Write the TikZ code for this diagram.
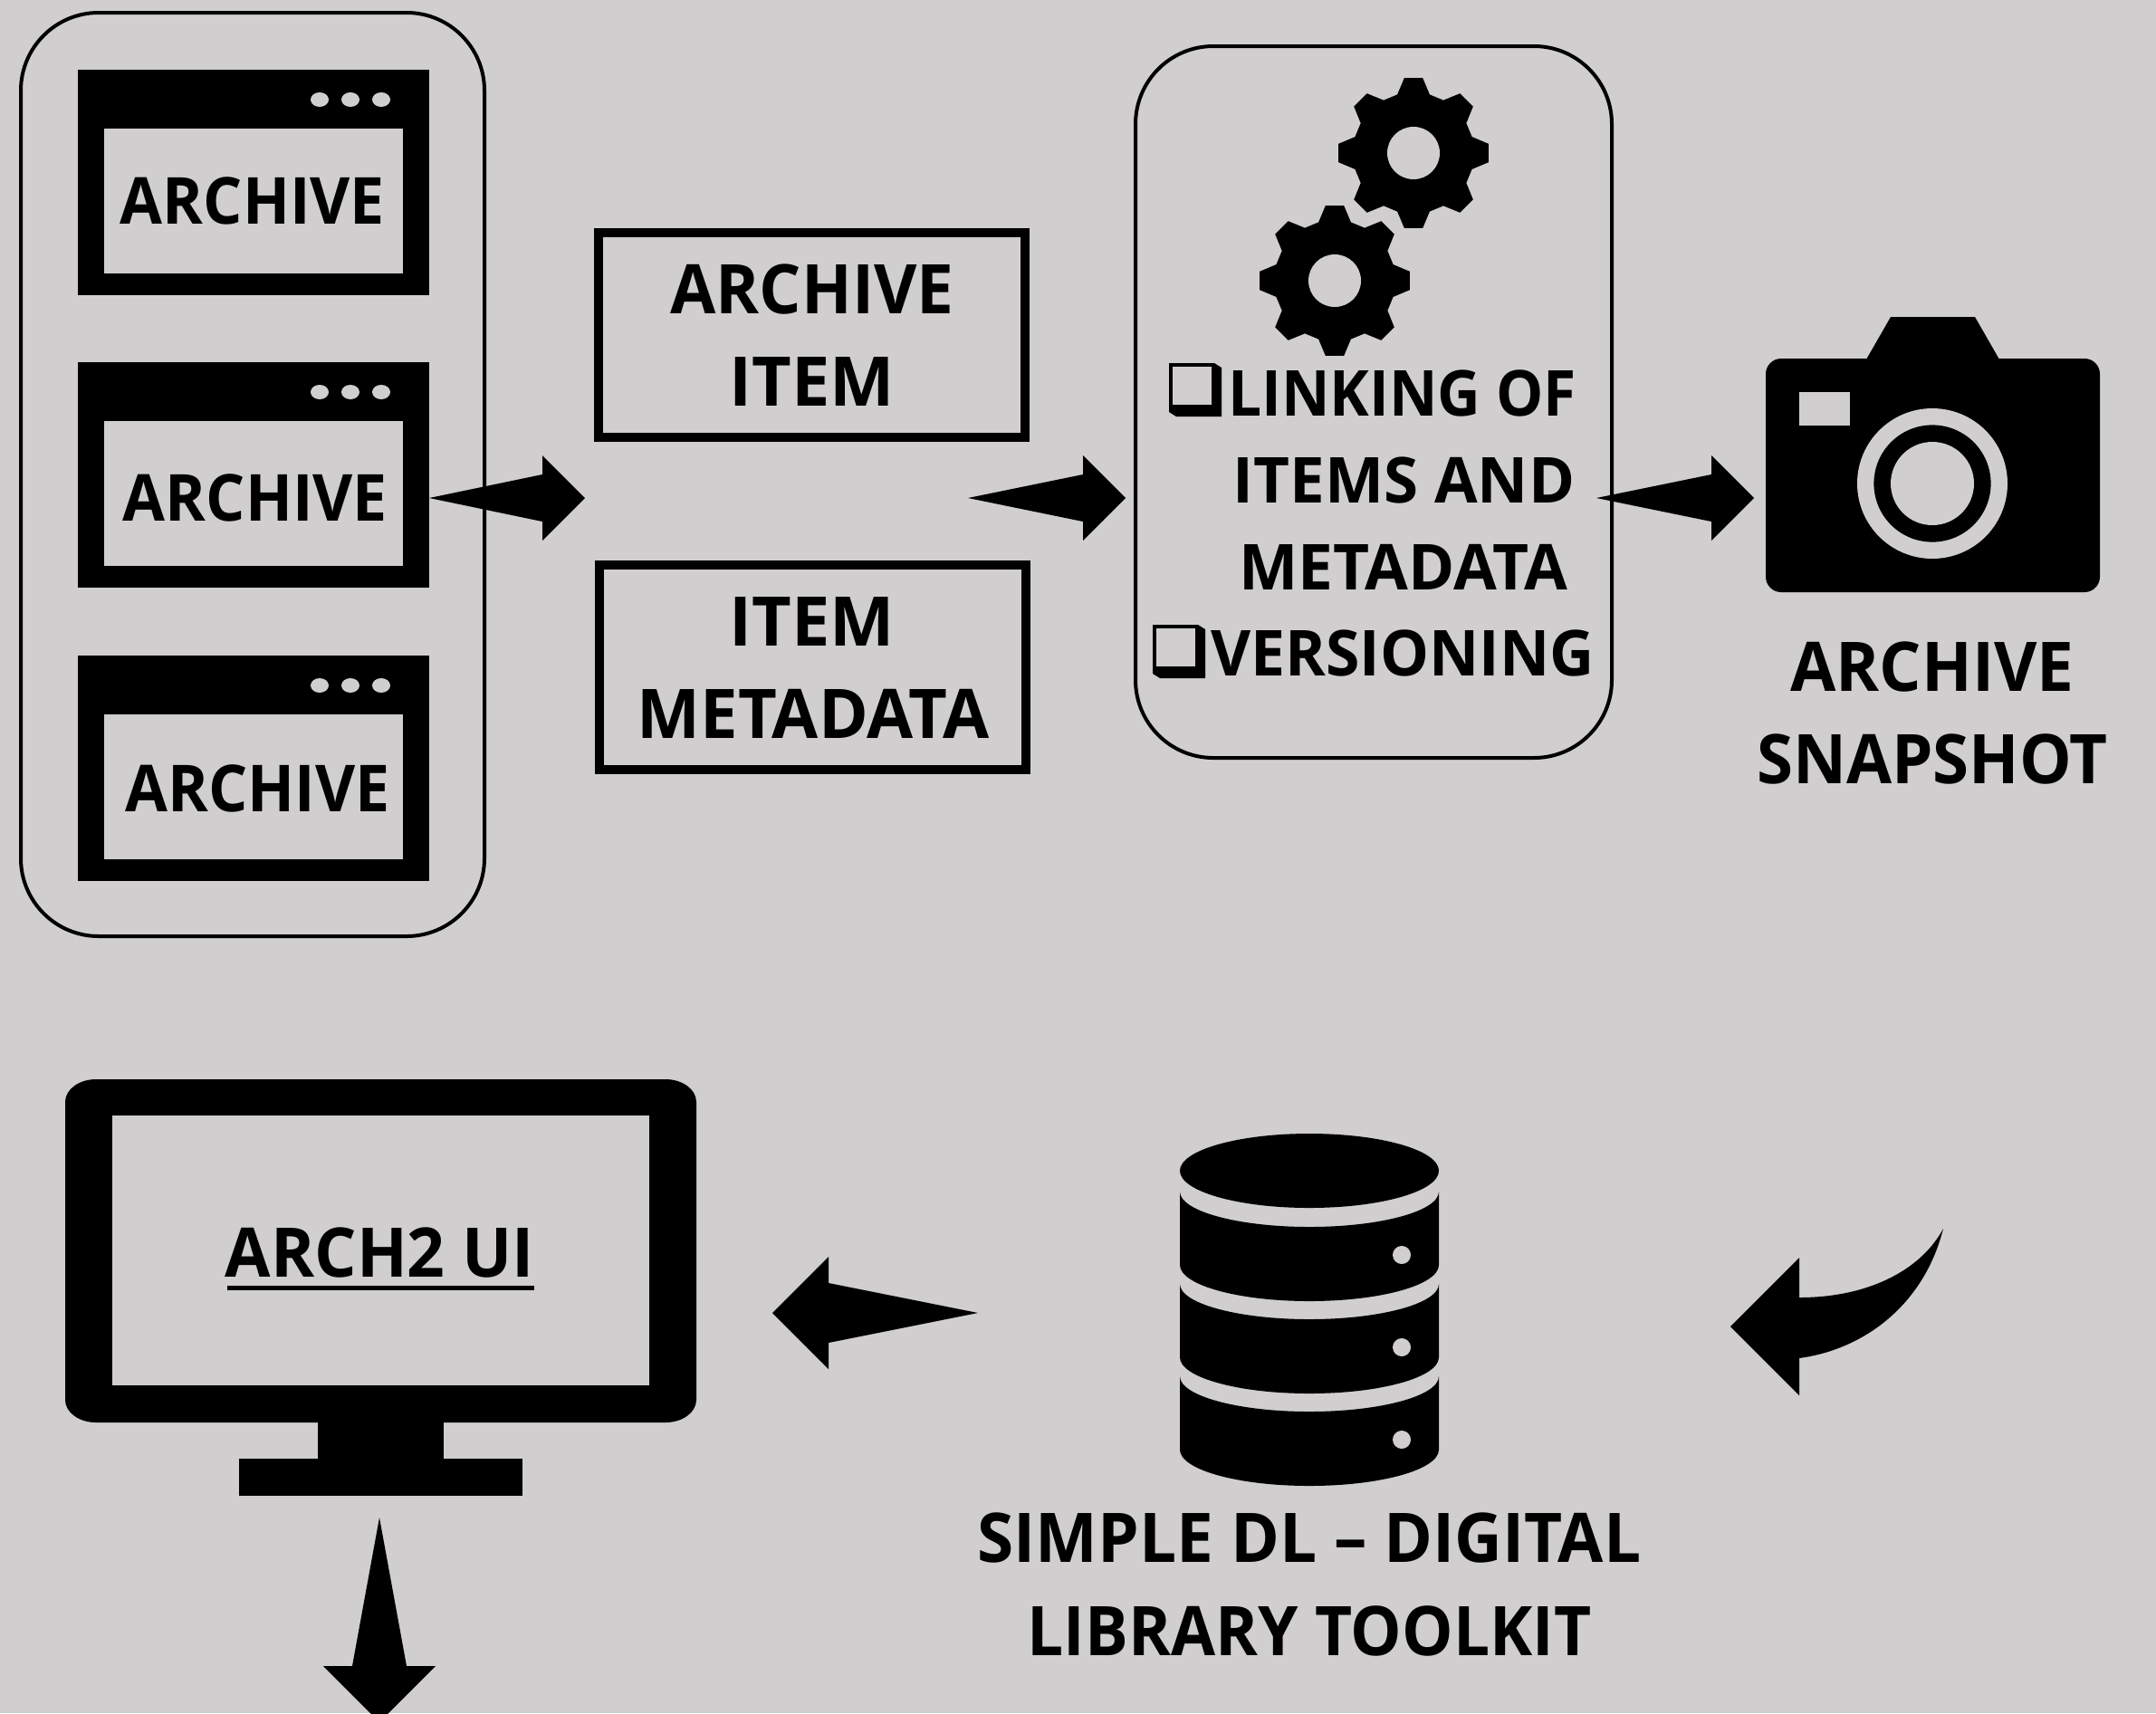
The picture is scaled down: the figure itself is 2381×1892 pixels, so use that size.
\documentclass[tikz,border=0pt]{standalone}
\usepackage{fontspec}
\usepackage{graphicx}
\setmainfont{Open Sans}[BoldFont={Open Sans Bold}]
\usetikzlibrary{calc}
\definecolor{bgc}{HTML}{D0CECE}
\newcommand\sx[2]{\scalebox{#1}[1]{#2}}
\tikzset{
  lab/.style={anchor=base,inner sep=0pt,font=\bfseries\fontsize{35.8pt}{36pt}\selectfont,text=black},
  labbig/.style={lab,font=\bfseries\fontsize{37.8pt}{38pt}\selectfont},
  lablist/.style={lab,font=\bfseries\fontsize{35pt}{35pt}\selectfont},
  outline/.style={draw=black,line width=2pt,rounded corners=43pt},
  itembox/.style={draw=black,line width=5pt,anchor=center,inner sep=0pt,minimum width=235.5pt,minimum height=113pt},
}
% block arrow: tail, tip, head length, head half width, barrel half width (pt)
\newcommand\blockarrow[5]{%
  \coordinate (ba) at ($(#2)!#3!(#1)$);
  \fill (#1) -- ($(ba)!#5!90:(#2)$) -- ($(ba)!#4!90:(#2)$) -- (#2)
        -- ($(ba)!-#4!90:(#2)$) -- ($(ba)!-#5!90:(#2)$) -- cycle;
}
\newcommand\windowicon[1]{%
  \fill (86,#1) rectangle (474,#1+249);
  \fill[bgc] (115,#1+65) rectangle (445,#1+225);
  \foreach \dx in {353,387,421} \fill[bgc] (\dx,#1+33) ellipse[x radius=5pt,y radius=4pt];
}
\newcommand\gearicon[2]{%
  \begin{scope}[shift={(#1,#2)}]
    \fill (-15.5:67) foreach \a in {0,45,...,315} {
      -- (\a-15.5:67) -- (\a-7:83.5) -- (\a+7:83.5) -- (\a+15.5:67)} -- cycle;
    \fill[bgc] (0,0) circle[radius=14.5pt];
  \end{scope}
}
\newcommand\checkicon[2]{%
  \begin{scope}[shift={(#1,#2)}]
    \fill (0,0) -- (50,0) -- (58,5) -- (58,59) -- (8,59) -- (0,54) -- cycle;
    \fill[bgc] (4,4) rectangle (46.5,46);
  \end{scope}
}
\newcommand\dblayer[1]{%
  \fill (1303,#1) arc[start angle=180,end angle=360,x radius=71.5pt,y radius=19.5pt]
        -- (1589,#1+81) arc[start angle=0,end angle=-180,x radius=71.5pt,y radius=20pt] -- cycle;
  \fill[bgc] (1548,#1+70) circle[radius=5pt];
}
\begin{document}
\begin{tikzpicture}[x=0.5pt,y=-0.5pt]
\useasboundingbox (0,0) rectangle (2381,1892);
\clip (0,0) rectangle (2381,1892);
\fill[bgc] (0,0) rectangle (2381,1892);

% left group
\draw[outline] (23,14) rectangle (535,1034);
\windowicon{77}
\windowicon{400}
\windowicon{724}
\node[lab] (t1) at (279,247) {\sx{.95}{ARCHIVE}};
\node[lab] (t2) at (282,575) {\sx{.95}{ARCHIVE}};
\node[lab] (t3) at (284.5,896) {\sx{.95}{ARCHIVE}};

% item boxes
\node[itembox] (item) at (896.5,369.5) {};
\node[itembox] (meta) at (897,736.5) {};
\node[labbig] (i1) at (897,346) {\sx{.965}{ARCHIVE}};
\node[labbig] (i2) at (896.5,448) {\sx{1}{ITEM}};
\node[labbig] (m1) at (897,713) {\sx{1}{ITEM}};
\node[labbig] (m2) at (898,815) {\sx{.98}{METADATA}};

% process group
\draw[outline] (1254,51) rectangle (1780,837);
\gearicon{1561}{169}
\gearicon{1474}{310}
\checkicon{1291}{401}
\checkicon{1273}{690}
\node[lablist] (l1) at (1548.5,459) {\sx{.94}{LINKING OF}};
\node[lablist] (l2) at (1550.5,555) {\sx{.986}{ITEMS AND}};
\node[lablist] (l3) at (1550,651) {\sx{.99}{METADATA}};
\node[lablist] (l4) at (1549,746) {\sx{.97}{VERSIONING}};

% camera
\fill[rounded corners=8.5pt] (1950,396) rectangle (2319,654);
\fill (2061,397) -- (2088,350) -- (2181,350) -- (2208,397) -- cycle;
\fill[bgc] (1987,433) rectangle (2043,470);
\fill[bgc] (2134,534) circle[radius=41.5pt];
\fill (2134,534) circle[radius=32.3pt];
\fill[bgc] (2134,534) circle[radius=23pt];
\node[labbig] (c1) at (2134,763.5) {\sx{.965}{ARCHIVE}};
\node[labbig] (c2) at (2134,865.5) {\sx{.96}{SNAPSHOT}};

% monitor
\fill (106,1192) -- (735,1192) arc[start angle=90,end angle=0,x radius=17pt,y radius=12.5pt]
  -- (769,1546) arc[start angle=0,end angle=-90,x radius=17pt,y radius=12.5pt]
  -- (106,1571) arc[start angle=270,end angle=180,x radius=17pt,y radius=12.5pt]
  -- (72,1217) arc[start angle=180,end angle=90,x radius=17pt,y radius=12.5pt] -- cycle;
\fill[bgc] (124,1232) rectangle (717,1530);
\fill (351,1565) rectangle (490,1615);
\fill (264,1611) rectangle (577,1652);
\node[labbig] (ui) at (419.5,1410) {\sx{.967}{ARCH2 UI}};
\fill (250.5,1420) rectangle (590,1425);

% database
\fill (1446,1293) ellipse[x radius=71.5pt,y radius=20.5pt];
\dblayer{1316}
\dblayer{1418}
\dblayer{1520}
\node[labbig] (d1) at (1446,1725) {\sx{.964}{SIMPLE DL -- DIGITAL}};
\node[labbig] (d2) at (1446,1828) {\sx{.941}{LIBRARY TOOLKIT}};

% arrows
\coordinate (a1s) at (474,550); \coordinate (a1t) at (646,550);
\coordinate (a2s) at (1069,550); \coordinate (a2t) at (1243,550);
\coordinate (a3s) at (1763,550); \coordinate (a3t) at (1937,550);
\coordinate (a4s) at (1080,1450); \coordinate (a4t) at (853,1450);
\coordinate (a5s) at (419,1676); \coordinate (a5t) at (419,1902);
\blockarrow{a1s}{a1t}{23.5pt}{23.5pt}{13pt}
\blockarrow{a2s}{a2t}{23.5pt}{23.5pt}{13pt}
\blockarrow{a3s}{a3t}{23.5pt}{23.5pt}{13pt}
\blockarrow{a4s}{a4t}{31pt}{31pt}{16.5pt}
\blockarrow{a5s}{a5t}{31pt}{31pt}{15pt}

% curved arrow
\fill (1911,1465) -- (1987,1389) -- (1987,1433)
  .. controls (2060,1433) and (2120,1405) .. (2146,1357)
  .. controls (2125,1440) and (2060,1490) .. (1987,1500)
  -- (1987,1541) -- cycle;
\end{tikzpicture}
\end{document}
